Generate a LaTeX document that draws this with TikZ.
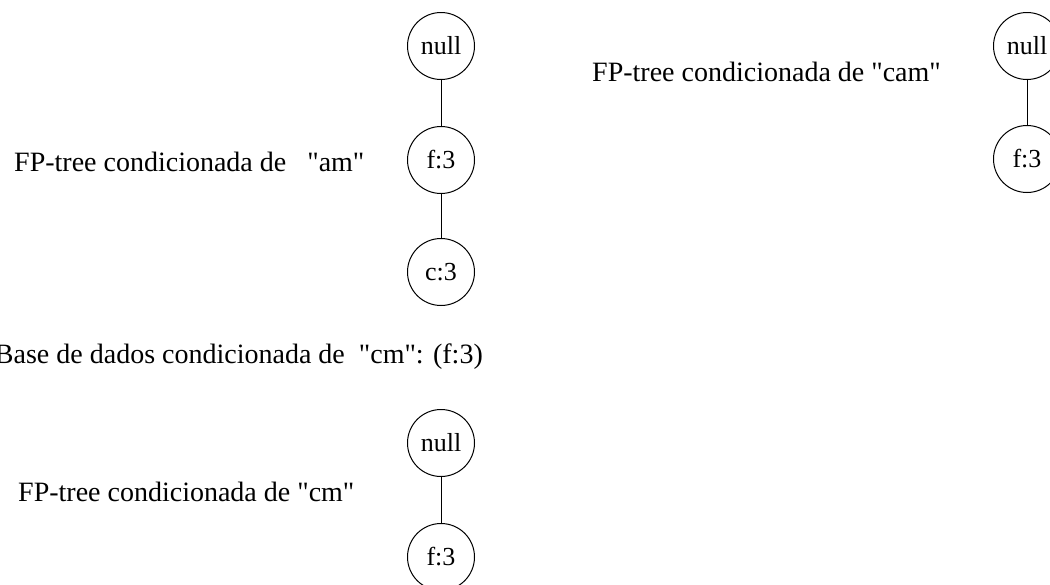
\documentclass[tikz,border=0pt]{standalone}
\usepackage{fontspec}
\setmainfont{Liberation Serif}
\newcommand{\qd}{\textquotedbl}
\begin{document}
\begin{tikzpicture}[x=1pt,y=-1pt,
  tn/.style={draw,circle,line width=1pt,minimum size=67pt,inner sep=0pt,font=\fontsize{26}{30}\selectfont},
  lbl/.style={anchor=west,inner sep=0pt,font=\fontsize{28}{32}\selectfont},
  edge/.style={line width=1pt}]
\useasboundingbox (0,0) rectangle (1050,584);
% tree am
\node[tn] (n1) at (441,46) {null};
\node[tn] (f1) at (441,160) {f:3};
\node[tn] (c1) at (441,272) {c:3};
\draw[edge] (n1) -- (f1);
\draw[edge] (f1) -- (c1);
\node[lbl] (l1) at (14,162) {FP-tree condicionada de \ \ \qd am\qd};
% tree cam
\node[tn] (n2) at (1027,46) {null};
\node[tn] (f2) at (1027,159) {f:3};
\draw[edge] (n2) -- (f2);
\node[lbl] (l2) at (592,72) {FP-tree condicionada de \qd cam\qd};
% base
\node[lbl,anchor=east] (b) at (483,357) {Base de dados condicionada de \ \qd cm\qd: (f:3)};
% tree cm
\node[tn] (n3) at (441,443) {null};
\node[tn] (f3) at (441,557) {f:3};
\draw[edge] (n3) -- (f3);
\node[lbl] (l3) at (18,492) {FP-tree condicionada de \qd cm\qd};
\end{tikzpicture}
\end{document}
